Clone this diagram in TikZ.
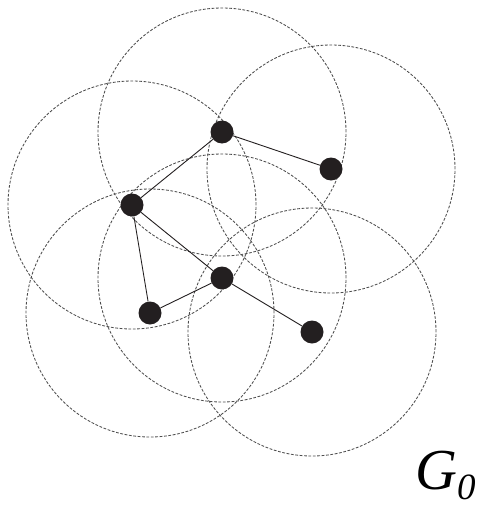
\documentclass[tikz,border=0pt]{standalone}
\usepackage{fontspec}
\setmainfont{Liberation Serif}
\usetikzlibrary{backgrounds}
\definecolor{Ink}{HTML}{231F20}
\definecolor{Reach}{HTML}{4C4C4C}
\tikzset{
  st/.style={circle,fill=Ink,draw=none,minimum size=23pt,inner sep=0pt},
  link/.style={draw=Ink,line width=.9pt},
  reach/.style={draw=Reach,line width=.85pt,dash pattern=on 2.8pt off 1.6pt},
  lab/.style={font=\fontsize{58}{58}\selectfont\itshape,inner sep=0pt,anchor=base west}
}
\begin{document}
\begin{tikzpicture}[x=1pt,y=-1pt]
    \useasboundingbox (0,0) rectangle (479,506);
    \node[st] (v1) at (222,132) {}; \node[st] (v2) at (331,169) {};
    \node[st] (v3) at (132,205) {}; \node[st] (v4) at (222,278) {};
    \node[st] (v5) at (150,313) {}; \node[st] (v6) at (312,332) {};
    \node[lab] (g0) at (415,489) {G\raisebox{-10pt}[0pt][0pt]{\fontsize{37}{37}\selectfont 0}};
    \begin{scope}[on background layer]
      \foreach \v in {v1,v2,v3,v4,v5,v6}
        \draw[reach] (\v.center) circle [radius=124pt];
      \draw[link] (v1)--(v2);
      \draw[link] (v1)--(v3);
      \draw[link] (v3)--(v4);
      \draw[link] (v4)--(v6);
      \draw[link] (v3)--(v5);
      \draw[link] (v5)--(v4);
    \end{scope}
  \end{tikzpicture}
\end{document}
